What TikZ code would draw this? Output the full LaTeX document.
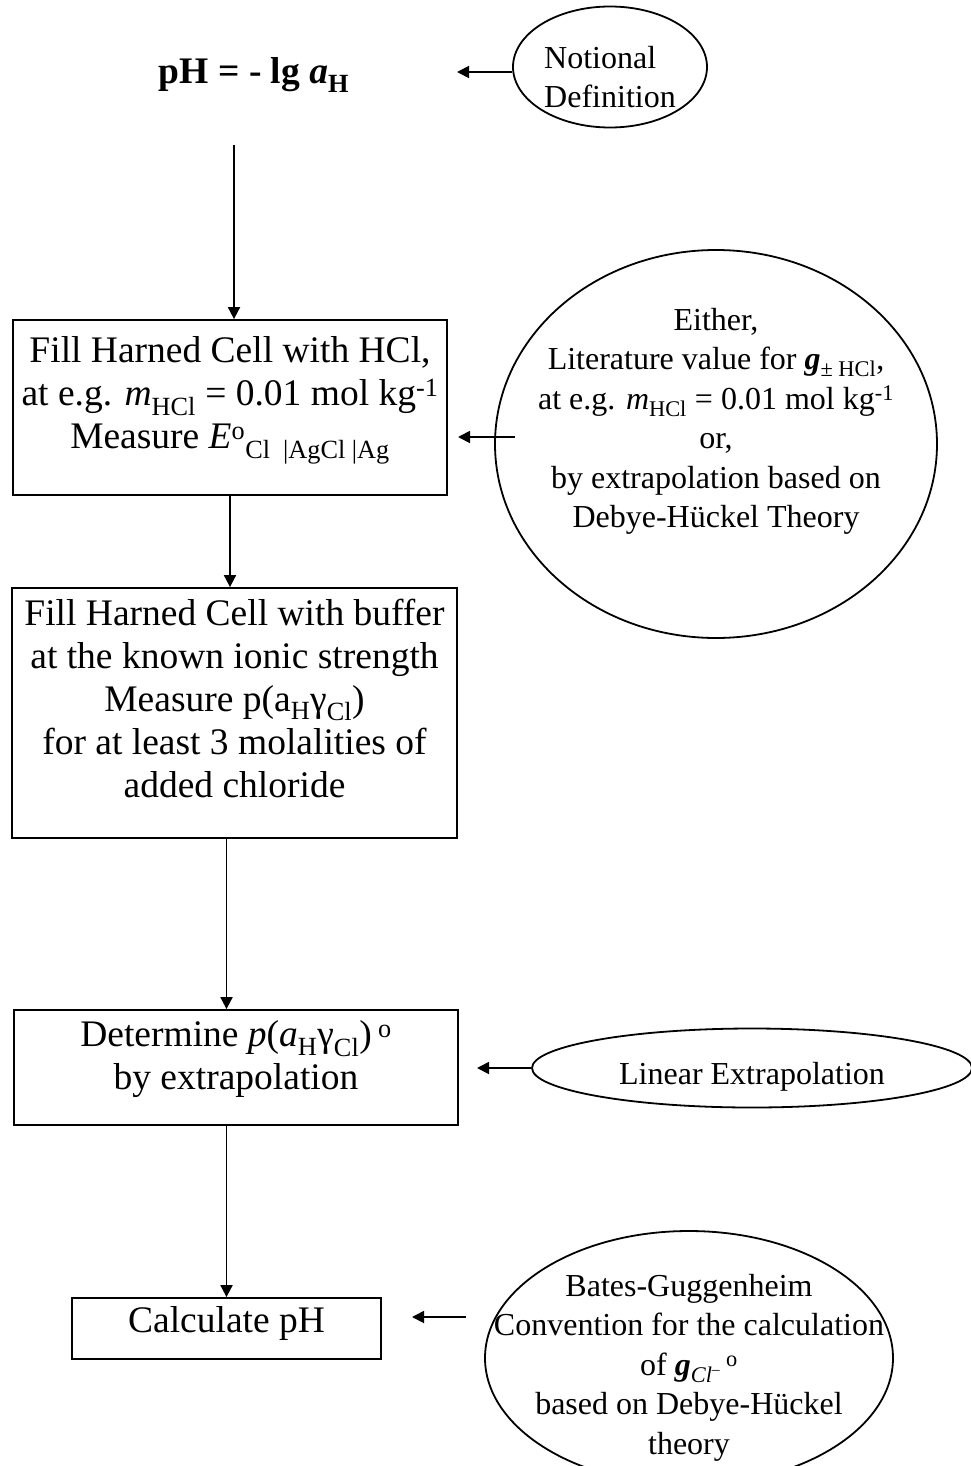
\documentclass[tikz,border=0pt]{standalone}
\usepackage{fontspec}
\setmainfont{Liberation Serif}
\usetikzlibrary{shapes.geometric,arrows.meta}
\begin{document}
\begin{tikzpicture}[x=1pt, y=-1pt, line width=1.8pt, >={Triangle[length=12pt,width=12pt]},
  block/.style={rectangle, draw, align=center, inner sep=2pt, font=\fontsize{37.5}{43}\selectfont},
  ellip/.style={ellipse, draw, inner sep=0pt},
  txt/.style={align=center, inner sep=0pt, font=\fontsize{32}{39.5}\selectfont}]
  \useasboundingbox (0,0) rectangle (971,1466);

  \node[font=\bfseries\fontsize{37.5}{43}\selectfont] (title) at (254,75) {pH = - lg \textit{a}\textsubscript{H}};
  \node[block, minimum width=434pt, minimum height=175pt, text depth=30pt] (box1) at (230,407.5)
    {Fill Harned Cell with HCl,\\ at e.g. \textit{m}\textsubscript{HCl} = 0.01 mol kg\textsuperscript{-1}\\ Measure \textit{E}\textsuperscript{o}\textsubscript{Cl\ \ |AgCl |Ag}};
  \node[block, minimum width=445pt, minimum height=250pt, text depth=30pt] (box2) at (234.5,713)
    {Fill Harned Cell with buffer\\ at the known ionic strength\\ Measure p(a\textsubscript{H}γ\textsubscript{Cl})\\ for at least 3 molalities of\\ added chloride};
  \node[block, minimum width=444pt, minimum height=115pt, text depth=25pt] (box3) at (236,1067.5)
    {Determine \textit{p}(\textit{a}\textsubscript{H}γ\textsubscript{Cl})\,\textsuperscript{o}\\ by extrapolation};
  \node[block, minimum width=309pt, minimum height=61pt, text depth=18pt] (box4) at (226.5,1328.5) {Calculate pH};

  \node[ellip, minimum width=194pt, minimum height=121pt,
    label={[txt, align=left, yshift=-10pt]center:{Notional\\Definition}}] (ell1) at (610,67) {};
  \node[ellip, minimum width=442pt, minimum height=388pt,
    label={[txt, yshift=22.5pt]center:{Either,\\ Literature value for \textbf{\textit{g}}\textsubscript{± HCl},\\ at e.g. \textit{m}\textsubscript{HCl} = 0.01 mol kg\textsuperscript{-1}\\ or,\\ by extrapolation based on\\ Debye-Hückel Theory}}] (ell2) at (716,444) {};
  \node[ellip, minimum width=440pt, minimum height=79pt,
    label={[txt, yshift=-9pt]center:{Linear Extrapolation}}] (ell3) at (752,1068) {};
  \node[ellip, minimum width=408pt, minimum height=254pt,
    label={[txt, yshift=-9.5pt]center:{Bates-Guggenheim\\ Convention for the calculation\\ of \textbf{\textit{g}}\textsubscript{\textit{Cl}\textsuperscript{–}}\,\textsuperscript{o}\\ based on Debye-Hückel\\ theory}}] (ell4) at (689,1358) {};

  \coordinate (t1) at (234,145);
  \coordinate (h1) at (457,72);
  \coordinate (h2) at (458,437);
  \coordinate (h3) at (477,1068);
  \coordinate (h4) at (412,1317);

  \draw[->] (t1) -- (t1 |- box1.north);
  \draw[->] (box1.south) -- (box1.south |- box2.north);
  \draw[->] (box4.north |- box2.south) -- (box4.north |- box3.north);
  \draw[->] (box4.north |- box3.south) -- (box4.north);

  \draw[->] (ell1.west |- h1) -- (h1);
  \draw[->, shorten <=-21pt] (ell2.west |- h2) -- (h2);
  \draw[->] (ell3.west) -- (h3);
  \draw[->, shorten <=18pt] (ell4.west |- h4) -- (h4);

\end{tikzpicture}
\end{document}
